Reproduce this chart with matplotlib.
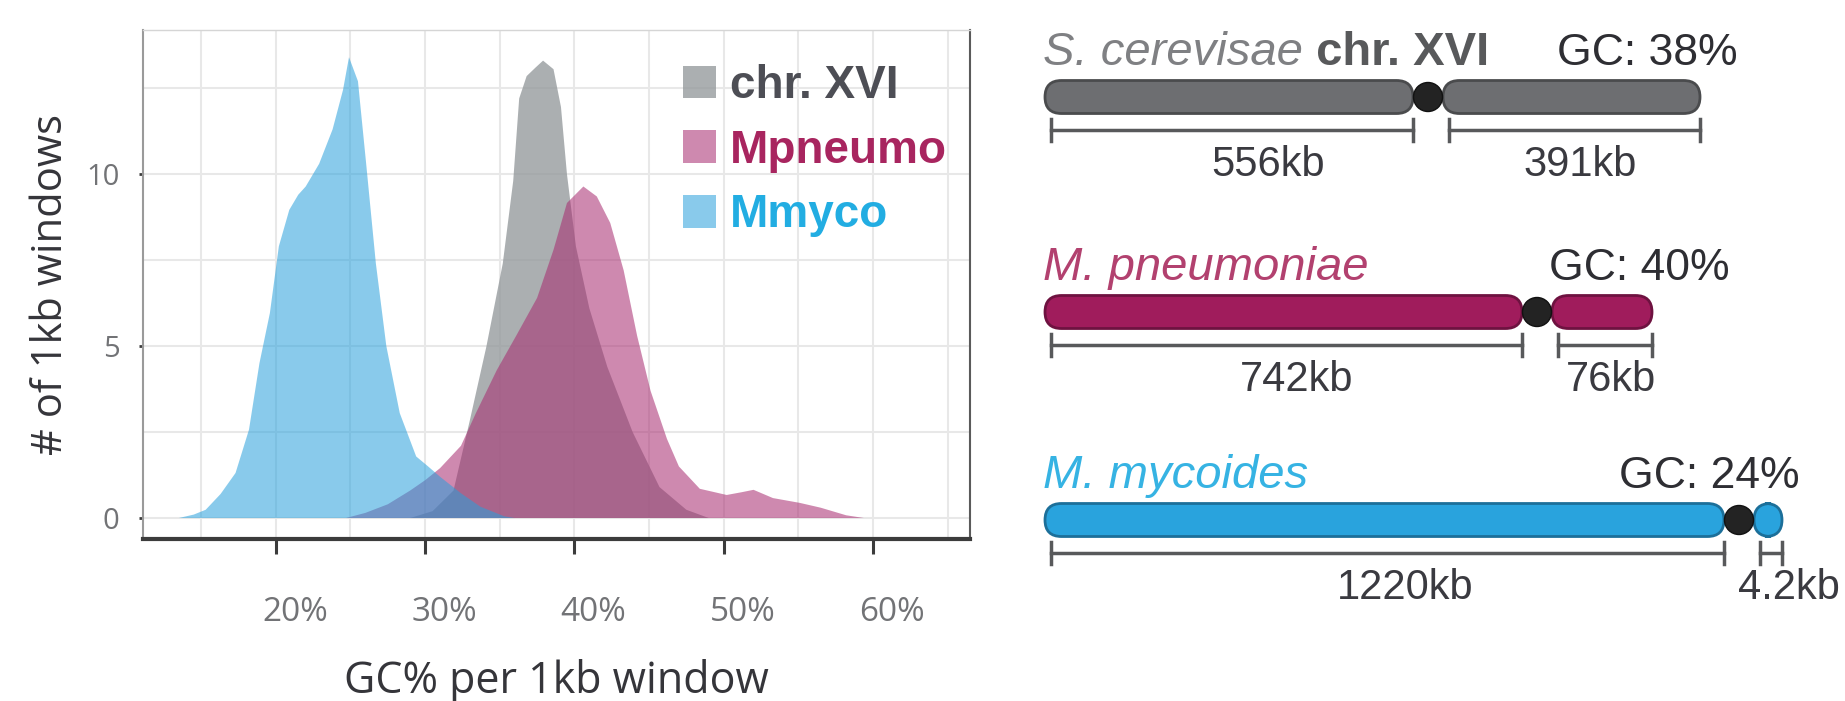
import matplotlib.pyplot as plt
import matplotlib.patches as mpatches
from matplotlib.transforms import ScaledTranslation

plt.rcParams["font.family"] = ["Open Sans", "DejaVu Sans"]

W, H, DPI = 1845, 701, 100

# ----------------------------------------------------------------------
# GC% densities
# ----------------------------------------------------------------------
GC_CHR16 = [29.0, 30.5, 31.9, 33.0, 34.1, 35.2, 35.9, 36.3, 36.8, 37.4, 37.9,
            38.6, 39.1, 39.5, 40.1, 41.0, 42.2, 43.9, 45.7, 47.5, 49.0]
DEN_CHR16 = [0.0, 0.2, 0.8, 2.85, 4.98, 7.4, 9.8, 12.2, 12.85, 13.1, 13.3,
             13.05, 11.95, 10.0, 7.9, 6.1, 4.4, 2.5, 0.9, 0.24, 0.0]

GC_MPNEU = [24.7, 26.0, 27.5, 29.0, 30.0, 31.0, 32.4, 33.4, 34.8, 36.1, 37.5,
            38.6, 39.5, 40.6, 41.5, 42.4, 43.3, 44.2, 45.1, 46.2, 47.0, 48.4,
            50.2, 51.2, 52.0, 53.3, 55.1, 56.5, 58.2, 59.4]
DEN_MPNEU = [0.0, 0.15, 0.4, 0.8, 1.1, 1.45, 2.1, 3.05, 4.3, 5.3, 6.4,
             7.8, 9.16, 9.64, 9.35, 8.58, 7.2, 5.3, 3.7, 2.3, 1.5, 0.85,
             0.67, 0.75, 0.82, 0.58, 0.44, 0.3, 0.08, 0.0]

GC_MMYCO = [13.5, 14.5, 15.3, 16.3, 17.3, 18.2, 18.9, 19.6, 20.2, 20.9, 21.5,
            22.0, 22.9, 23.8, 24.5, 24.9, 25.5, 26.05, 26.7, 27.4, 28.3, 29.4,
            30.2, 31.0, 32.4, 33.7, 35.3, 36.0]
DEN_MMYCO = [0.0, 0.1, 0.24, 0.7, 1.31, 2.57, 4.5, 5.96, 7.9, 8.96, 9.4,
             9.64, 10.3, 11.3, 12.45, 13.4, 12.7, 10.3, 7.4, 5.0, 3.05, 1.79,
             1.5, 1.2, 0.72, 0.33, 0.05, 0.0]

LEGEND_LABELS = ["chr. XVI", "Mpneumo", "Mmyco"]
FILL_COLORS = [(150/255, 155/255, 158/255), (167/255, 41/255, 110/255), (40/255, 160/255, 220/255)]
FILL_ALPHA = [0.8, 0.55, 0.55]
LEGEND_TEXT_COLORS = ["#4d4e55", "#a8255f", "#22ade2"]

X_TICKS = [20, 30, 40, 50, 60]
X_TICKLABELS = ["20%", "30%", "40%", "50%", "60%"]
Y_TICKS = [0, 5, 10]

# ----------------------------------------------------------------------
# Chromosome schematics
# ----------------------------------------------------------------------
SPECIES = ["S. cerevisae", "M. pneumoniae", "M. mycoides"]
SPECIES_EXTRA = [" chr. XVI", "", ""]
GC_LABELS = ["GC: 38%", "GC: 40%", "GC: 24%"]
LEFT_KB = ["556kb", "742kb", "1220kb"]
RIGHT_KB = ["391kb", "76kb", "4.2kb"]
LEFT_ARM = [368, 477, 679]     # drawn (schematic) arm lengths
RIGHT_ARM = [257, 100, 28]

BAR_FACE = ["#6d6e71", "#a01c5c", "#29a3dd"]
BAR_EDGE = ["#4a4b4d", "#6e1240", "#1c6f99"]
NAME_COLORS = ["#7f8083", "#b2416f", "#36b3e3"]

fig = plt.figure(figsize=(W / DPI, H / DPI), dpi=DPI)

# ---------------------------- density panel ----------------------------
ax = fig.add_axes([143 / W, (H - 539) / H, 827 / W, 509 / H])
series = [(GC_CHR16, DEN_CHR16), (GC_MPNEU, DEN_MPNEU), (GC_MMYCO, DEN_MMYCO)]
for (gx, dy), col, a in zip(series, FILL_COLORS, FILL_ALPHA):
    ax.fill_between(gx, 0, dy, facecolor=col, alpha=a, linewidth=0, zorder=2)

ax.set_xlim(11.1, 66.5)
ax.set_ylim(-0.61, 14.19)
ax.set_xticks(X_TICKS)
ax.set_xticklabels(X_TICKLABELS)
ax.set_yticks(Y_TICKS)
ax.set_xticks([15, 25, 35, 45, 55, 65], minor=True)
ax.set_yticks([2.5, 7.5, 12.5], minor=True)
ax.grid(which="both", color="#e8e8e8", linewidth=1.5, zorder=0)
ax.set_axisbelow(True)

ax.tick_params(axis="x", which="major", direction="out", length=11, width=2.2,
               color="#3c3c3c", pad=30, labelsize=24, labelcolor="#727376")
ax.tick_params(axis="y", which="major", direction="out", length=3, width=2,
               color="#3c3c3c", pad=14, labelsize=21, labelcolor="#727376")
ax.tick_params(which="minor", length=0)
for lab in ax.get_xticklabels():
    lab.set_transform(lab.get_transform() + ScaledTranslation(0.19, 0, fig.dpi_scale_trans))

ax.spines["left"].set_color("#9a9a9a")
ax.spines["left"].set_linewidth(1.5)
ax.spines["top"].set_color("#d5d5d5")
ax.spines["top"].set_linewidth(1)
ax.spines["right"].set_color("#5a5a5a")
ax.spines["right"].set_linewidth(1.5)
ax.spines["bottom"].set_color("#3c3c3c")
ax.spines["bottom"].set_linewidth(3)

ax.set_xlabel("GC% per 1kb window", fontsize=31, color="#35353a", labelpad=22)
ax.set_ylabel("# of 1kb windows", fontsize=30, color="#35353a", labelpad=10)

handles = [mpatches.Patch(facecolor=c, alpha=a, linewidth=0)
           for c, a in zip(FILL_COLORS, FILL_ALPHA)]
leg = ax.legend(handles, LEGEND_LABELS, loc="upper left",
                bbox_to_anchor=((683 - 143) / 827, (539 - 64) / 509),
                frameon=False, prop=dict(family="Liberation Sans", weight="bold", size=33),
                handlelength=0.72, handleheight=0.72, handletextpad=0.3,
                labelspacing=0.45, borderpad=0, borderaxespad=0)
for t, c in zip(leg.get_texts(), LEGEND_TEXT_COLORS):
    t.set_color(c)

# --------------------------- chromosome panel ---------------------------
rx = fig.add_axes([1000 / W, 0, 845 / W, 1])
rx.set_xlim(1000, 1845)
rx.set_ylim(H, 0)
rx.axis("off")

x0 = 1045
bar_h = 33
gap = 30
row_y = [97, 312, 520]
gc_right = [1738, 1730, 1800]
left_kb_shift = [36, 10, 18]
right_kb_shift = [6, 6, 18]
txt = dict(family="Liberation Sans")

for i in range(len(SPECIES)):
    y = row_y[i]
    left_end = x0 + LEFT_ARM[i]
    right_start = left_end + gap
    right_end = right_start + RIGHT_ARM[i]

    for start, length in [(x0, LEFT_ARM[i]), (right_start, RIGHT_ARM[i])]:
        rx.add_patch(mpatches.FancyBboxPatch(
            (start, y - bar_h / 2), length, bar_h,
            boxstyle=f"round,pad=0,rounding_size={bar_h / 2}",
            facecolor=BAR_FACE[i], edgecolor=BAR_EDGE[i], linewidth=2, zorder=2))
    rx.add_patch(mpatches.Circle((left_end + gap / 2, y), 14.5, facecolor="#232323",
                                 edgecolor="#111111", linewidth=1, zorder=3))

    # scale bars
    sy = y + 33
    for a, b in [(x0 + 6, left_end), (right_start + 6, right_end)]:
        rx.plot([a, b], [sy, sy], color="#58595b", lw=2.5, zorder=2)
        for xe in (a, b):
            rx.plot([xe, xe], [sy - 11, sy + 11], color="#58595b", lw=2.5, zorder=2)
    rx.text((x0 + 6 + left_end) / 2 + left_kb_shift[i], y + 68, LEFT_KB[i], ha="center",
            va="center", fontsize=30, color="#3a3a40", **txt)
    rx.text((right_start + 6 + right_end) / 2 + right_kb_shift[i], y + 68, RIGHT_KB[i],
            ha="center", va="center", fontsize=30, color="#3a3a40", **txt)

    # labels
    t1 = rx.text(x0 - 2, y - 32, SPECIES[i], ha="left", va="baseline", fontsize=34,
                 style="italic", color=NAME_COLORS[i], **txt)
    if SPECIES_EXTRA[i]:
        rx.annotate(SPECIES_EXTRA[i], xy=(1, 0), xycoords=t1, ha="left", va="bottom",
                    fontsize=34, fontweight="bold", color="#58595b", **txt)
    rx.text(gc_right[i], y - 32, GC_LABELS[i], ha="right", va="baseline", fontsize=32,
            color="#2e2e33", **txt)

fig.savefig("out.png", dpi=DPI)
